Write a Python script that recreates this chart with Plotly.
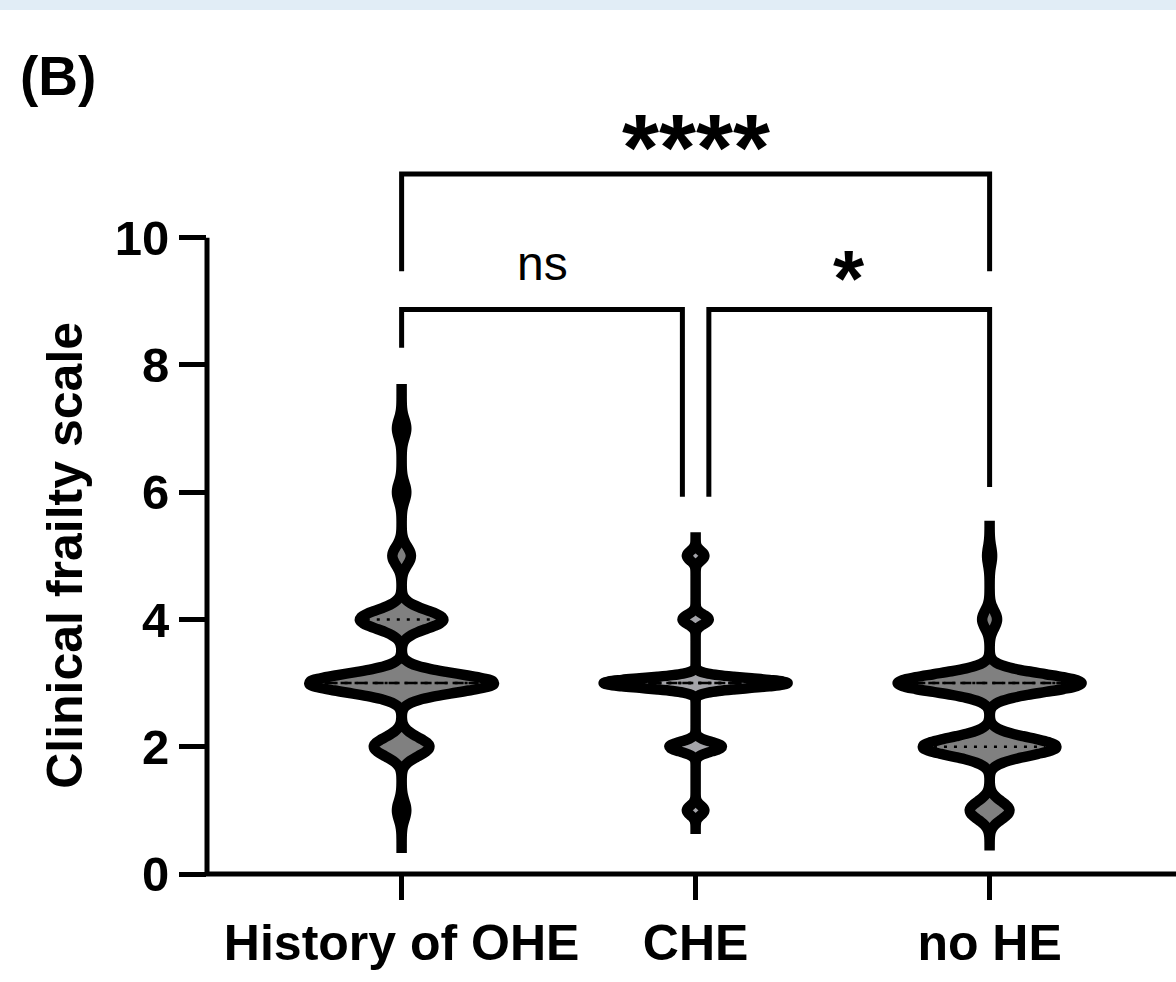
import numpy as np
import plotly.graph_objects as go

# ---------------- data ----------------
categories = ["History of OHE", "CHE", "no HE"]
score_levels = [1, 2, 3, 4, 5, 6, 7]
counts_ohe = [1, 6, 20, 9, 2, 1, 1]
counts_che = [2, 6, 21, 3, 2, 0, 0]
counts_nohe = [8, 27, 37, 3, 1, 0, 0]
bandwidths = [0.145, 0.075, 0.14]
spans = [[0.33, 7.7], [0.63, 5.37], [0.45, 5.55]]
y_ticks = [0, 2, 4, 6, 8, 10]
sig_labels = ["****", "ns", "*"]

# ---------------- style ----------------
FONT = "Liberation Sans, Arial, sans-serif"
fill_colors = ["#808080", "#a4a4a9", "#808080"]
VW = 0.626           # violin full width (x units)
OUTLINE = 10.5
LINE_FRAC = 0.84
X_RANGE = [-0.662, 2.634]
Y_TOP = 12.1
M_L, M_R, M_T, M_B = 207, 0, 104, 108
W, H = 1176, 982
PLOT_H = H - M_T - M_B

groups = [counts_ohe, counts_che, counts_nohe]


def density(vals, bw, span):
    # same sampling scheme as plotly's violin kde
    dist = span[1] - span[0]
    n = int(np.ceil(dist / (bw / 3)))
    step = dist / n
    t = span[0] + step * np.arange(n + 1)
    v = np.exp(-0.5 * ((t[:, None] - vals[None, :]) / bw) ** 2).sum(axis=1)
    return t, v / v.max()


fig = go.Figure()

for i, (cat, cnts) in enumerate(zip(categories, groups)):
    vals = np.repeat(score_levels, cnts).astype(float)
    fig.add_trace(go.Violin(
        x=np.full(len(vals), i, dtype=float), y=vals, name=cat,
        scalegroup=cat, scalemode="width", width=VW,
        bandwidth=bandwidths[i], spanmode="manual", span=spans[i],
        points=False, box_visible=False, meanline_visible=False,
        line=dict(color="black", width=OUTLINE), fillcolor=fill_colors[i],
        hoverinfo="skip", showlegend=False,
    ))

for i, (cat, cnts) in enumerate(zip(categories, groups)):
    vals = np.repeat(score_levels, cnts).astype(float)
    t, v = density(vals, bandwidths[i], spans[i])
    q1, med, q3 = np.percentile(vals, [25, 50, 75])
    for q, dash in [(q1, "3px,7px"), (q3, "3px,7px"), (med, "11px,5px")]:
        hw = np.interp(q, t, v) * VW / 2 * LINE_FRAC
        fig.add_trace(go.Scatter(
            x=[i - hw, i + hw], y=[q, q], mode="lines",
            line=dict(color="black", width=2.5, dash=dash),
            hoverinfo="skip", showlegend=False,
        ))

# significance brackets (x in group positions, y in score units)
brackets = [
    dict(x0=0, x1=2, top=11.0, left_end=9.47, right_end=9.47),
    dict(x0=0, x1=0.955, top=8.87, left_end=8.27, right_end=5.93),
    dict(x0=1.045, x1=2, top=8.87, left_end=5.93, right_end=6.08),
]
label_pos = [(1.0, 11.43), (0.478, 9.6), (1.523, 9.36)]
label_fonts = [
    dict(family=FONT, size=95, color="black", weight="bold"),
    dict(family=FONT, size=48, color="black"),
    dict(family=FONT, size=80, color="black", weight="bold"),
]

shapes = []
for b in brackets:
    shapes.append(dict(
        type="path", xref="x", yref="y",
        path=f"M {b['x0']},{b['left_end']} L {b['x0']},{b['top']} L {b['x1']},{b['top']} L {b['x1']},{b['right_end']}",
        line=dict(color="black", width=5),
    ))

# axes drawn as one L-shaped path (y axis stops at 10)
y10 = 10 / Y_TOP
shapes.append(dict(type="path", xref="paper", yref="paper",
                   path=f"M 0,{y10} L 0,0 L 1.02,0",
                   line=dict(color="black", width=5)))
# light band on the top of the page
shapes.append(dict(type="rect", xref="paper", yref="paper",
                   x0=-M_L / (W - M_L - M_R), x1=1.01,
                   y0=(PLOT_H + M_T - 10) / PLOT_H, y1=(PLOT_H + M_T) / PLOT_H,
                   fillcolor="#e1edf6", line=dict(width=0), layer="below"))

annotations = []
for (x, y), txt, f in zip(label_pos, sig_labels, label_fonts):
    annotations.append(dict(x=x, y=y, xref="x", yref="y", text=txt, showarrow=False,
                            font=f, xanchor="center", yanchor="middle"))
annotations.append(dict(x=(65 - M_L) / (W - M_L - M_R), y=5, xref="paper", yref="y",
                        text="Clinical frailty scale", textangle=-90, showarrow=False,
                        font=dict(family=FONT, size=50, color="black", weight="bold"),
                        xanchor="center", yanchor="middle"))
annotations.append(dict(x=(18 - M_L) / (W - M_L - M_R), y=(PLOT_H + M_T - 76) / PLOT_H,
                        xref="paper", yref="paper", text="(B)", showarrow=False,
                        font=dict(family=FONT, size=55, color="black", weight="bold"),
                        xanchor="left", yanchor="middle"))

fig.update_layout(
    width=W, height=H,
    margin=dict(l=M_L, r=M_R, t=M_T, b=M_B, pad=0),
    paper_bgcolor="white", plot_bgcolor="white",
    showlegend=False, violinmode="overlay",
    shapes=shapes, annotations=annotations,
    xaxis=dict(type="linear", range=X_RANGE, tickvals=[0, 1, 2], ticktext=categories,
               showline=False, showgrid=False, zeroline=False,
               ticks="outside", ticklen=25, tickwidth=5, tickcolor="black",
               tickfont=dict(family=FONT, size=50, color="black", weight="bold")),
    yaxis=dict(type="linear", range=[0, Y_TOP], tickvals=y_ticks,
               showline=False, showgrid=False, zeroline=False,
               ticks="outside", ticklen=27, tickwidth=5, tickcolor="black",
               tickfont=dict(family=FONT, size=49, color="black", weight="bold")),
)

fig.write_html("out.html")
